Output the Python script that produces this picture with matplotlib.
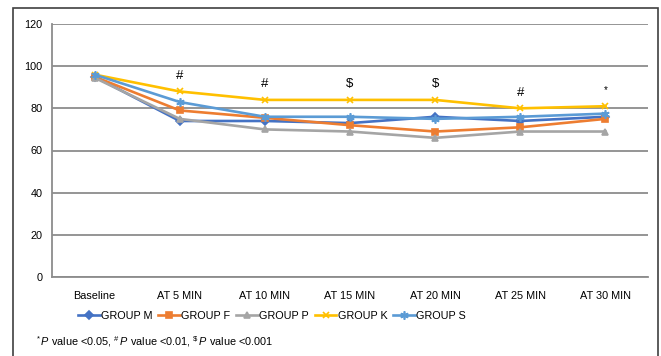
import matplotlib.pyplot as plt
from matplotlib.patches import Rectangle

plt.rcParams['font.family'] = ['Liberation Sans', 'DejaVu Sans']
plt.rcParams['mathtext.fontset'] = 'custom'
plt.rcParams['mathtext.rm'] = 'Liberation Sans'
plt.rcParams['mathtext.it'] = 'Liberation Sans:italic'

times = ['Baseline', 'AT 5 MIN', 'AT 10 MIN', 'AT 15 MIN', 'AT 20 MIN', 'AT 25 MIN', 'AT 30 MIN']

group_m = [95, 74, 74, 73, 76, 74, 76]
group_f = [95, 79, 75.5, 72, 69, 71, 75]
group_p = [94.5, 75, 70, 69, 66, 69, 69]
group_k = [96, 88, 84, 84, 84, 80, 81]
group_s = [96, 83, 76, 76, 75, 76, 77.5]

# significance marks shown above each time point
sig_marks = ['', '#', '#', '$', '$', '#', '*']

series = [
    ('GROUP M', group_m, '#4472C4', 'D', 4),
    ('GROUP F', group_f, '#ED7D31', 's', 5),
    ('GROUP P', group_p, '#A5A5A5', '^', 5),
    ('GROUP K', group_k, '#FFC000', 'x', 5),
    ('GROUP S', group_s, '#5B9BD5', (6, 2, 0), 6),
]

fs = 7.8

fig = plt.figure(figsize=(6.61, 3.56), dpi=100)
ax = fig.add_axes([52 / 661, 1 - 277 / 356, 596 / 661, 253 / 356])

x = list(range(len(times)))
for name, vals, color, marker, ms in series:
    ax.plot(x, vals, color=color, lw=1.9, marker=marker, markersize=ms,
            markeredgewidth=1.2, label=name)

for i, mark in enumerate(sig_marks):
    if mark:
        size = 7 if mark == '*' else 9.5
        ax.text(i, group_k[i] + 6, mark, ha='center', va='baseline', fontsize=size)

ax.set_xlim(-0.5, len(times) - 0.5)
ax.set_ylim(0, 120)
ax.set_yticks(range(0, 121, 20))
ax.set_xticks(x)
ax.set_xticklabels(times)
ax.grid(axis='y', color='#8c8c8c', lw=1.3)
ax.set_axisbelow(True)
ax.tick_params(length=0, labelsize=fs, colors='black')
ax.tick_params(axis='y', pad=7)
ax.tick_params(axis='x', pad=10)
for side in ['top', 'right']:
    ax.spines[side].set_visible(False)
ax.spines['bottom'].set_color('#8c8c8c')
ax.spines['bottom'].set_linewidth(1.3)
ax.spines['left'].set_color('#8c8c8c')
ax.spines['left'].set_linewidth(1.3)

fig.legend(loc='center', bbox_to_anchor=(272 / 661, 1 - 316 / 356), ncol=5,
           frameon=False, fontsize=fs, handlelength=2.0, handletextpad=0.1,
           columnspacing=0.55)

fig.text(36 / 661, 1 - 342 / 356,
         r'$^{*}\,\mathit{P}$ value <0.05, $^{\#}\,\mathit{P}$ value <0.01, $^{\$}\,\mathit{P}$ value <0.001',
         ha='left', va='center', fontsize=fs)

# outer frame around the figure
fig.patches.append(Rectangle((13 / 661, -0.1), 645 / 661, 1.1 - 8 / 356,
                             transform=fig.transFigure, fill=False,
                             edgecolor='#404040', lw=1.2))

fig.savefig('out.png', dpi=100)
